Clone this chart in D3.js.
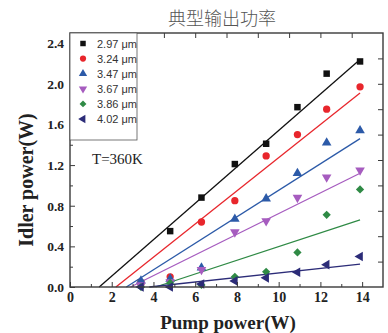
<!DOCTYPE html>
<html>
<head>
<meta charset="utf-8">
<script src="https://cdn.jsdelivr.net/npm/d3@7"></script>
<style>
  body { margin: 0; background: #fff; }
  svg { display: block; }
</style>
</head>
<body>
<div id="chart"></div>
<script>
// pump power (W) at which each wavelength was measured
var pump = [3.4, 4.8, 6.3, 7.9, 9.4, 10.9, 12.3, 13.9];

var labels = ["2.97 \u03bcm", "3.24 \u03bcm", "3.47 \u03bcm", "3.67 \u03bcm", "3.86 \u03bcm", "4.02 \u03bcm"];

// idler power (W) per wavelength
var p297 = [0.04, 0.55, 0.88, 1.21, 1.41, 1.77, 2.10, 2.22];
var p324 = [0.04, 0.10, 0.64, 0.85, 1.29, 1.50, 1.75, 1.97];
var p347 = [0.06, 0.08, 0.19, 0.67, 0.87, 1.12, 1.42, 1.54];
var p367 = [0.02, 0.05, 0.17, 0.54, 0.65, 0.88, 1.08, 1.15];
var p386 = [0.00, 0.04, 0.02, 0.10, 0.15, 0.34, 0.71, 0.96];
var p402 = [0.00, 0.00, 0.03, 0.06, 0.09, 0.145, 0.22, 0.30];

// linear fits: [threshold pump power, idler power at 13.9 W]
var fitStart = [1.4, 2.2, 2.7, 2.9, 4.1, 3.8];
var fitEnd = [2.24, 1.91, 1.46, 1.12, 0.66, 0.225];

var colors = ["#111111", "#e8262c", "#2c5aa8", "#a65cbf", "#2f8a45", "#2c2c78"];
var shapes = ["square", "circle", "up", "down", "diamond", "left"];

var yTicks = [0, 0.4, 0.8, 1.2, 1.6, 2.0, 2.4];
var xTicks = [0, 2, 4, 6, 8, 10, 12, 14];

var series = [p297, p324, p347, p367, p386, p402];

var W = 388, H = 333;
var margin = {top: 33, right: 5, bottom: 46, left: 70};
var width = W - margin.left - margin.right,
    height = H - margin.top - margin.bottom;

var svg = d3.select("#chart").append("svg")
    .attr("width", W)
    .attr("height", H);

svg.append("text")
    .attr("x", 222).attr("y", 25)
    .attr("text-anchor", "middle")
    .attr("fill", "#555")
    .style("font-family", "'Noto Sans CJK SC', sans-serif")
    .style("font-size", "18px")
    .style("font-weight", "300")
    .text("典型输出功率");

var g = svg.append("g")
    .attr("transform", "translate(" + margin.left + "," + margin.top + ")");

var x = d3.scaleLinear().domain([0, 15]).range([0, width]);
var y = d3.scaleLinear().domain([0, 2.5]).range([height, 0]);

var serif = "'Liberation Serif', 'Times New Roman', serif";

// fit lines
g.selectAll(".fit")
    .data(series)
    .enter().append("line")
    .attr("x1", function(d, i) { return x(fitStart[i]); })
    .attr("y1", y(0))
    .attr("x2", x(pump[pump.length - 1]))
    .attr("y2", function(d, i) { return y(fitEnd[i]); })
    .attr("stroke", function(d, i) { return colors[i]; })
    .attr("stroke-width", 1.3);

function markerPath(s, size) {
  if (s === "circle") return d3.symbol(d3.symbolCircle, size)();
  if (s === "square" || s === "diamond") return d3.symbol(d3.symbolSquare, size)();
  return d3.symbol(d3.symbolTriangle, size)();
}
function markerRot(s) {
  if (s === "down") return " rotate(180)";
  if (s === "left") return " rotate(-90)";
  if (s === "diamond") return " rotate(45)";
  return "";
}
var sizes = [42, 42, 40, 40, 34, 40];

// points
series.forEach(function(vals, i) {
  g.selectAll(".pt" + i)
      .data(vals)
      .enter().append("path")
      .attr("d", markerPath(shapes[i], sizes[i]))
      .attr("transform", function(d, j) {
        return "translate(" + x(pump[j]) + "," + y(d) + ")" + markerRot(shapes[i]);
      })
      .attr("fill", colors[i]);
});

// frame
g.append("rect")
    .attr("width", width).attr("height", height)
    .attr("fill", "none")
    .attr("stroke", "#3a3a3a")
    .attr("stroke-width", 1.4);

// left axis
var yAxis = g.append("g")
    .call(d3.axisLeft(y).tickValues(yTicks).tickFormat(d3.format(".1f"))
      .tickSizeInner(-5).tickSizeOuter(0).tickPadding(6));
yAxis.select(".domain").remove();
yAxis.selectAll("text")
    .style("font-family", serif).style("font-weight", "bold")
    .style("font-size", "13.5px").attr("fill", "#222");
g.append("g")
    .call(d3.axisLeft(y).tickValues(d3.range(0.2, 2.5, 0.4)).tickFormat("")
      .tickSizeInner(-3).tickSizeOuter(0))
    .select(".domain").remove();

// bottom axis
var xAxis = g.append("g")
    .attr("transform", "translate(0," + height + ")")
    .call(d3.axisBottom(x).tickValues(xTicks).tickFormat(d3.format("d"))
      .tickSizeInner(-5).tickSizeOuter(0).tickPadding(5));
xAxis.select(".domain").remove();
xAxis.selectAll("text")
    .style("font-family", serif).style("font-weight", "bold")
    .style("font-size", "14px").attr("fill", "#222");
g.append("g")
    .attr("transform", "translate(0," + height + ")")
    .call(d3.axisBottom(x).tickValues(d3.range(1, 15, 2)).tickFormat("")
      .tickSizeInner(-3).tickSizeOuter(0))
    .select(".domain").remove();

// top and right ticks
g.append("g")
    .call(d3.axisTop(x).tickValues(d3.range(1.5, 15, 1.5)).tickFormat("")
      .tickSizeInner(-5).tickSizeOuter(0))
    .select(".domain").remove();
g.append("g")
    .attr("transform", "translate(" + width + ",0)")
    .call(d3.axisRight(y).tickValues(d3.range(0.25, 2.5, 0.25)).tickFormat("")
      .tickSizeInner(-5).tickSizeOuter(0))
    .select(".domain").remove();

g.selectAll(".tick line").attr("stroke", "#3a3a3a");

// legend
var leg = g.append("g");
leg.append("rect")
    .attr("x", 0).attr("y", 0)
    .attr("width", 67).attr("height", 107)
    .attr("fill", "#fff")
    .attr("stroke", "#555").attr("stroke-width", 0.8);
labels.forEach(function(lab, i) {
  var row = leg.append("g").attr("transform", "translate(0," + (10.5 + i * 15.1) + ")");
  row.append("path")
      .attr("d", markerPath(shapes[i], shapes[i] === "diamond" ? 24 : 30))
      .attr("transform", "translate(13,0)" + markerRot(shapes[i]))
      .attr("fill", colors[i]);
  row.append("text")
      .attr("x", 27).attr("y", 4)
      .style("font-family", "'Liberation Sans', Arial, sans-serif")
      .style("font-size", "11px")
      .attr("fill", "#333")
      .text(lab);
});

g.append("text")
    .attr("x", 22).attr("y", 131)
    .style("font-family", serif)
    .style("font-size", "15px")
    .attr("fill", "#222")
    .text("T=360K");

// axis titles
svg.append("text")
    .attr("x", 228).attr("y", 329)
    .attr("text-anchor", "middle")
    .style("font-family", serif).style("font-weight", "bold")
    .style("font-size", "19px").attr("fill", "#222")
    .text("Pump power(W)");
svg.append("text")
    .attr("transform", "translate(33,180) rotate(-90)")
    .attr("text-anchor", "middle")
    .style("font-family", serif).style("font-weight", "bold")
    .style("font-size", "20px").attr("fill", "#222")
    .text("Idler power(W)");
</script>
</body>
</html>
